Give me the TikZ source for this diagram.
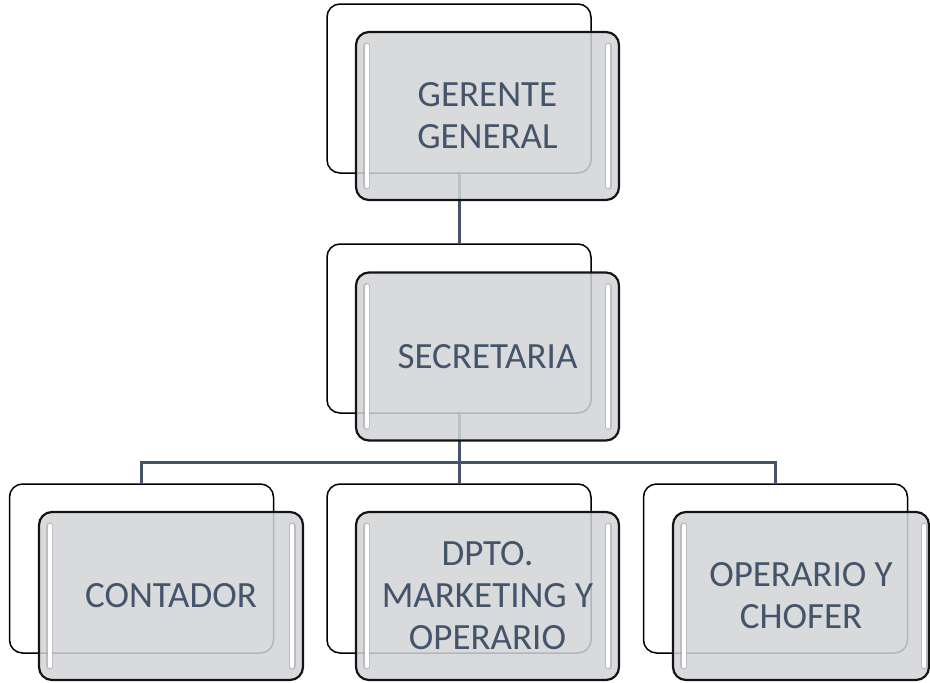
\documentclass[tikz,border=0pt]{standalone}
\usepackage{fontspec}
\setmainfont{Carlito}
\usetikzlibrary{calc}
\definecolor{txt}{RGB}{68,84,106}
\definecolor{boxgray}{RGB}{210,212,215}
\definecolor{stripgray}{RGB}{160,162,166}
\tikzset{
  backbox/.style={draw=black, line width=1.5pt, rounded corners=13pt, minimum width=264pt, minimum height=169pt, inner sep=0pt, fill=white},
  frontbox/.style={draw=black!92, line width=2.2pt, rounded corners=13pt, minimum height=168pt, inner sep=0pt, fill=boxgray, fill opacity=0.86, text opacity=1, text=txt, align=center, font=\fontsize{37}{42}\selectfont},
  conn/.style={draw=txt, line width=3pt},
  stripshade/.style={draw=stripgray, line width=7pt, line cap=round, opacity=0.5},
  stripwhite/.style={draw=white, line width=4pt, line cap=round},
}
\newcommand{\strips}[2]{%
  \draw[stripshade] ($(#1.north west)+(#2,15)$) -- ($(#1.south west)+(#2,-15)$);
  \draw[stripwhite] ($(#1.north west)+(#2,15)$) -- ($(#1.south west)+(#2,-15)$);
  \draw[stripshade] ($(#1.north east)+(-#2,15)$) -- ($(#1.south east)+(-#2,-15)$);
  \draw[stripwhite] ($(#1.north east)+(-#2,15)$) -- ($(#1.south east)+(-#2,-15)$);
}
\begin{document}
\begin{tikzpicture}[x=1pt,y=-1pt]
\useasboundingbox (0,0) rectangle (930,683);
% back boxes
\node[backbox] (gb) at (459,88.5) {};
\node[backbox] (sb) at (459,328.5) {};
\node[backbox] (cb) at (141.5,568.5) {};
\node[backbox] (db) at (459,568.5) {};
\node[backbox] (ob) at (775.5,568.5) {};
% connectors
\coordinate (bus) at (459,462.5);
\draw[conn] (gb.south) -- (sb.north);
\draw[conn] (sb.south) -- (db.north);
\draw[conn] (cb.north) |- (bus) -| (ob.north);
% front boxes
\node[frontbox, minimum width=263pt] (gf) at (487.5,116) {GERENTE\\GENERAL};
\node[frontbox, minimum width=263pt] (sf) at (487.5,356.5) {SECRETARIA};
\node[frontbox, minimum width=264pt] (cf) at (171,596) {CONTADOR};
\node[frontbox, minimum width=263pt] (df) at (487.5,596) {DPTO.\\MARKETING Y\\OPERARIO};
\node[frontbox, minimum width=256pt] (of) at (801,596) {OPERARIO Y\\CHOFER};
% highlights
\strips{gf}{12}
\strips{sf}{12}
\strips{cf}{12}
\strips{df}{12}
\draw[stripshade] ($(of.north west)+(12,15)$) -- ($(of.south west)+(12,-15)$);
\draw[stripwhite] ($(of.north west)+(12,15)$) -- ($(of.south west)+(12,-15)$);
\draw[stripshade] ($(of.north east)+(-6,15)$) -- ($(of.south east)+(-6,-15)$);
\draw[stripwhite] ($(of.north east)+(-6,15)$) -- ($(of.south east)+(-6,-15)$);
\end{tikzpicture}
\end{document}
